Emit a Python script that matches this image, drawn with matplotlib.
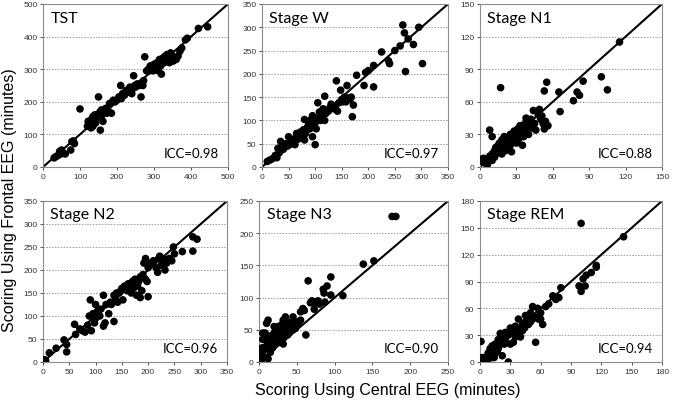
import matplotlib
matplotlib.use("Agg")
import matplotlib.pyplot as plt
import numpy as np

# ---------------- data ----------------
tst_pts = [(30,28),(35,32),(40,35),(45,48),(50,52),(48,40),(60,40),(75,52),(78,78),(82,80),(85,72),
           (100,178),(120,125),(122,140),(125,130),(130,145),(135,155),(138,150),(140,160),(142,135),
           (145,150),(150,215),(150,160),(152,165),(155,113),(155,170),(158,175),(160,160),(162,140),
           (165,175),(168,170),(170,180),(172,165),(175,175),(180,195),(185,165),(188,200),(190,205),
           (195,200),(200,205),(205,215),(210,250),(212,210),(215,225),(220,220),(225,235),(230,230),
           (235,245),(240,225),(242,240),(245,280),(248,250),(250,245),(255,255),(260,250),(265,215),
           (268,260),(270,250),(272,265),(275,338),(280,295),(285,300),(288,295),(290,310),(292,300),
           (295,305),(298,295),(300,315),(302,305),(305,300),(308,320),(310,310),(312,295),(315,330),
           (318,310),(320,285),(322,320),(325,335),(328,320),(330,340),(332,325),(335,345),(338,330),
           (340,335),(342,320),(345,350),(348,330),(350,340),(352,325),(355,335),(360,330),(365,340),
           (370,355),(375,365),(385,390),(390,395),(420,425),(445,430),(130,120),(135,125)]
w_pts = [(10,12),(15,15),(20,18),(25,25),(28,20),(30,40),(32,30),(35,35),(35,55),(38,45),(40,38),
         (42,42),(45,50),(48,45),(50,65),(52,48),(55,52),(58,55),(60,60),(62,48),(65,72),(68,60),
         (70,65),(72,75),(75,70),(78,80),(80,102),(80,58),(82,72),(85,85),(88,95),(90,100),(90,82),
         (92,88),(95,110),(95,65),(98,90),(100,95),(100,48),(102,82),(105,105),(105,138),(108,118),
         (110,100),(112,108),(115,125),(118,152),(118,100),(120,115),(122,120),(125,120),(128,128),
         (130,135),(135,125),(138,130),(140,185),(142,120),(145,138),(148,165),(150,145),(152,140),
         (155,150),(158,140),(160,175),(162,148),(165,145),(168,150),(170,108),(172,133),(178,197),
         (192,175),(195,203),(200,207),(210,172),(210,218),(225,247),(238,228),(240,222),(250,250),
         (260,260),(265,305),(268,288),(270,205),(275,275),(285,263),(295,300),(302,222)]
n1_pts = [(0,7),(2,5),(3,8),(5,3),(5,6),(6,2),(7,8),(8,10),(10,6),(10,12),(12,15),(12,9),(13,18),
          (15,20),(15,13),(16,22),(17,17),(18,25),(18,12),(20,20),(20,28),(21,15),(22,22),(23,18),
          (24,26),(25,30),(25,20),(26,14),(27,24),(28,33),(28,27),(30,22),(30,30),(31,35),(32,26),
          (33,38),(34,30),(35,34),(35,20),(36,28),(37,40),(38,35),(38,45),(40,38),(40,30),(42,44),
          (43,36),(44,52),(45,40),(46,34),(48,48),(49,53),(50,44),(51,47),(52,40),(53,35),(54,42),
          (56,38),(55,78),(53,70),(17,73),(8,34),(10,28),(65,69),(66,51),(77,61),(80,69),(82,66),
          (85,79),(100,83),(105,71),(115,115)]
n2_pts = [(3,5),(5,3),(12,20),(25,30),(40,48),(45,38),(45,22),(60,82),(62,60),(70,72),(75,68),
          (80,65),(85,80),(88,100),(90,135),(92,68),(95,105),(98,85),(100,95),(100,125),(102,108),
          (105,112),(108,100),(110,115),(115,145),(115,78),(118,85),(120,125),(125,105),(128,130),
          (130,125),(135,145),(135,88),(138,140),(140,150),(142,130),(145,150),(148,155),(150,160),
          (152,135),(155,165),(158,160),(160,155),(162,170),(165,165),(168,150),(170,175),(172,160),
          (175,180),(178,145),(180,165),(182,175),(185,185),(185,140),(188,155),(190,190),(192,215),
          (195,225),(195,180),(198,175),(200,142),(200,205),(205,215),(210,220),(215,205),(218,195),
          (220,225),(222,230),(225,210),(228,225),(230,220),(232,200),(235,215),(240,225),(245,220),
          (248,250),(250,235),(265,240),(285,272),(285,241),(293,267)]
n3_pts = [(176,226),(181,226),(138,152),(152,157),(111,103),(95,132),(95,104),(90,118),(85,113),
          (86,107),(87,93),(65,126),(62,42),(68,92),(70,95),(72,93),(75,93),(73,82),(60,80),(58,83),
          (55,78),(55,65),(50,62),(48,60),(45,58),(40,55),(42,50),(38,60),(35,70),(32,65),(30,58),
          (28,50),(25,45),(22,52),(20,45),(18,42),(15,40),(12,65),(10,60),(8,45),(5,45),(5,35),(4,22),
          (3,15),(2,8),(1,3),(0,5),(0,0),(3,2),(2,18),(5,10),(8,20),(10,25),(12,30),(15,35),(15,15),
          (18,30),(20,35),(22,38),(25,30),(28,40),(30,35),(32,28),(35,48),(38,42),(40,45),(42,62),
          (45,50),(48,52),(25,55),(30,45),(33,38),(18,22),(10,40),(7,8),(12,5),(20,55),(35,55),(45,70),
          (52,60),(78,95),(80,90)]
rem_pts = [(100,155),(142,140),(115,108),(115,106),(105,97),(104,85),(102,93),(98,85),(100,79),
           (80,83),(75,70),(72,74),(74,72),(68,65),(60,55),(62,42),(58,48),(57,60),(55,22),(52,62),
           (50,55),(48,50),(45,45),(45,52),(42,42),(40,38),(38,48),(35,40),(35,28),(32,35),(30,38),
           (28,30),(28,0),(25,25),(25,33),(22,28),(20,20),(20,32),(18,25),(18,15),(15,20),(15,10),
           (12,18),(12,5),(10,15),(10,8),(8,10),(8,3),(5,5),(5,0),(3,2),(2,5),(0,3),(1,23),(0,0),(22,7),
           (30,20),(33,22),(36,30),(40,28),(42,35),(46,42),(50,45),(52,48),(55,50),(60,48),(65,62),
           (38,35),(27,30),(14,5),(7,2),(17,12),(24,20),(44,38),(48,42),(78,72),(110,100)]

titles = ["TST", "Stage W", "Stage N1", "Stage N2", "Stage N3", "Stage REM"]
iccs = ["ICC=0.98", "ICC=0.97", "ICC=0.88", "ICC=0.96", "ICC=0.90", "ICC=0.94"]
maxes = [500, 350, 150, 350, 250, 180]
steps = [100, 50, 30, 50, 50, 30]
all_pts = [tst_pts, w_pts, n1_pts, n2_pts, n3_pts, rem_pts]

# ---------------- layout ----------------
W, H = 673, 406
boxes = [(43, 5, 228, 168), (262, 5, 448, 168), (480, 5, 662, 168),
         (43, 202, 227, 363), (259, 202, 448, 363), (480, 202, 662, 363)]

fig = plt.figure(figsize=(W/100, H/100), dpi=100)
title_font = ["Lato", "DejaVu Sans"]
label_font = ["Liberation Sans", "DejaVu Sans"]
frame_col = "#8c8c8c"

for pts, box, t, icc, mx, st in zip(all_pts, boxes, titles, iccs, maxes, steps):
    x0, y0, x1, y1 = box
    ax = fig.add_axes([x0/W, 1 - y1/H, (x1-x0)/W, (y1-y0)/H])
    arr = np.array(pts, dtype=float)
    ax.plot([0, mx], [0, mx], color="black", lw=1.5, zorder=2)
    ax.scatter(arr[:, 0], arr[:, 1], s=30, color="black", edgecolors="none", zorder=3)
    ax.set_xlim(0, mx)
    ax.set_ylim(0, mx)
    ticks = np.arange(0, mx + 1, st)
    ax.set_xticks(ticks)
    ax.set_yticks(ticks)
    for v in ticks[1:-1]:
        ax.axhline(v, color="#9a9a9a", lw=0.7, ls=(0, (1.5, 1.5)), zorder=1)
    ax.tick_params(labelsize=6, colors="#333333", length=2, width=0.6, pad=2)
    for lab in ax.get_xticklabels() + ax.get_yticklabels():
        lab.set_family(label_font)
    for sp in ax.spines.values():
        sp.set_color(frame_col)
        sp.set_linewidth(0.8)
    ax.text(0.04, 0.96, t, transform=ax.transAxes, ha="left", va="top",
            fontsize=11.5, family=title_font)
    ax.text(0.95, 0.05, icc, transform=ax.transAxes, ha="right", va="bottom",
            fontsize=9.5, family=title_font)

fig.text(388/W, 1 - 391/H, "Scoring Using Central EEG (minutes)", ha="center", va="center",
         fontsize=11.5, family=label_font)
fig.text(10/W, 1 - 200/H, "Scoring Using Frontal EEG (minutes)", ha="center", va="center",
         rotation=90, fontsize=11.5, family=label_font)

fig.savefig("out.png", dpi=100)
